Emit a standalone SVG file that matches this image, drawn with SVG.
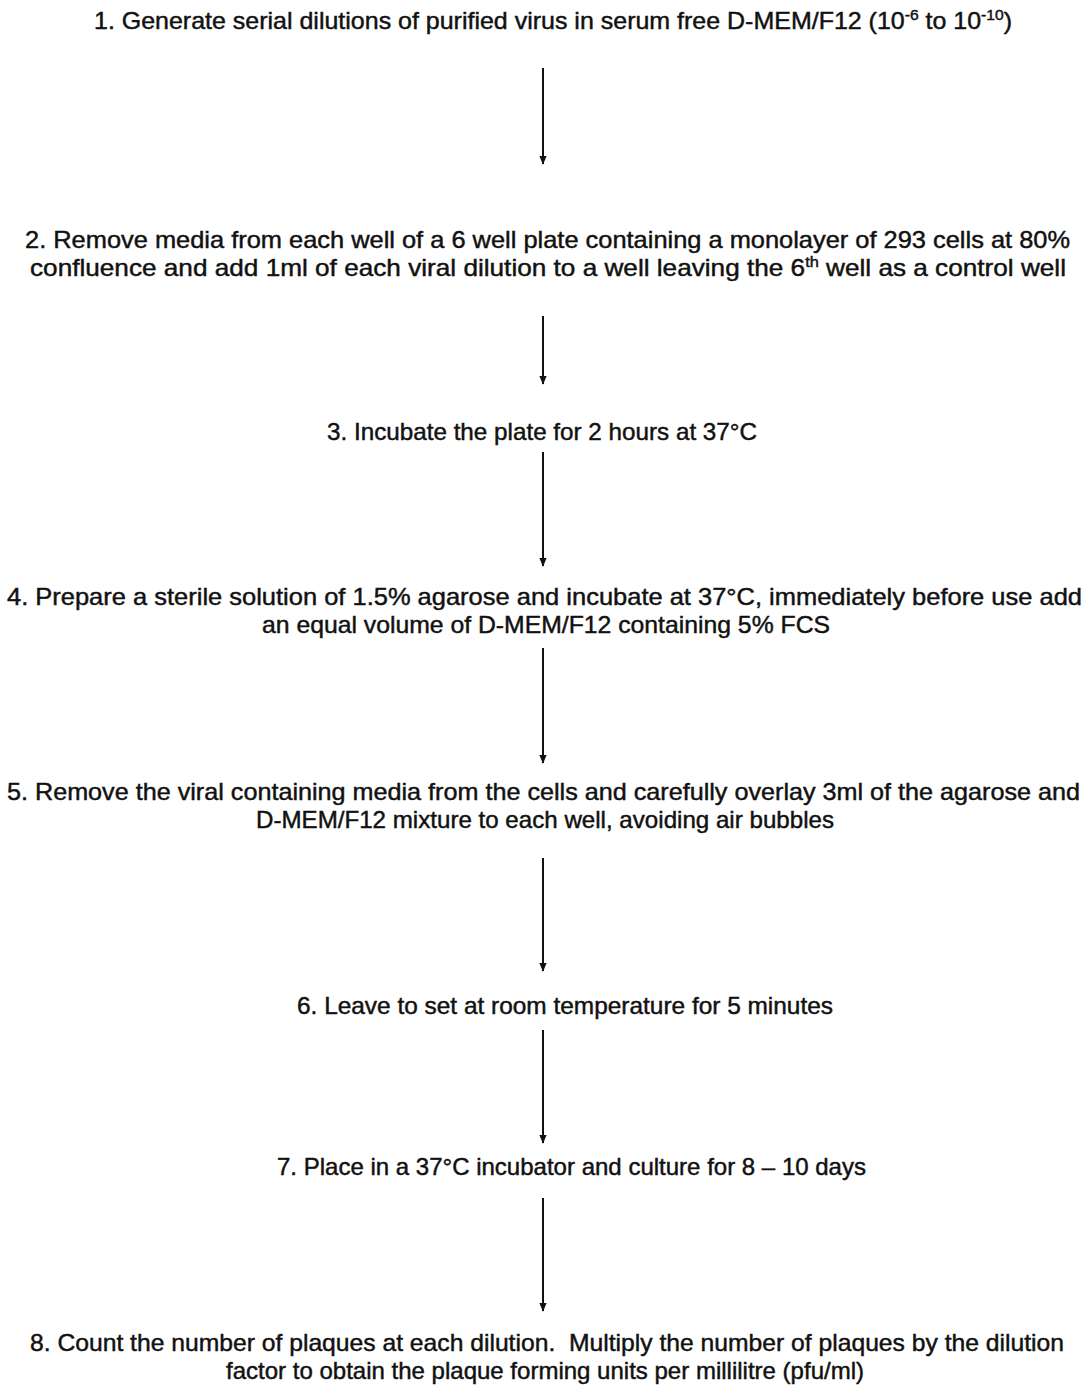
<svg xmlns="http://www.w3.org/2000/svg" width="1089" height="1393" viewBox="0 0 1089 1393">
<style>
text{font-family:"Liberation Sans",Arial,sans-serif;font-size:24px;fill:#111;stroke:#111;stroke-width:0.45}
.sup{font-size:15px}
.c{stroke:#111;stroke-width:2;fill:none}
</style>
<defs>
<marker id="a" markerWidth="9" markerHeight="11" refX="10" refY="4.5" orient="auto" markerUnits="userSpaceOnUse" viewBox="0 0 11 9">
<path d="M0,0 L11,4.5 L0,9 Z" fill="#111"/>
</marker>
</defs>
<rect width="1089" height="1393" fill="#fff"/>
<g id="connectors">
<line class="c" x1="543" y1="68" x2="543" y2="164" marker-end="url(#a)"/>
<line class="c" x1="543" y1="316" x2="543" y2="384" marker-end="url(#a)"/>
<line class="c" x1="543" y1="452" x2="543" y2="566" marker-end="url(#a)"/>
<line class="c" x1="543" y1="648" x2="543" y2="763" marker-end="url(#a)"/>
<line class="c" x1="543" y1="858" x2="543" y2="971" marker-end="url(#a)"/>
<line class="c" x1="543" y1="1030" x2="543" y2="1143" marker-end="url(#a)"/>
<line class="c" x1="543" y1="1198" x2="543" y2="1311" marker-end="url(#a)"/>
</g>
<g id="step1"><text x="94" y="29" textLength="918" lengthAdjust="spacingAndGlyphs">1. Generate serial dilutions of purified virus in serum free D-MEM/F12 (10<tspan class="sup" dy="-9">-6</tspan><tspan dy="9"> to 10</tspan><tspan class="sup" dy="-9">-10</tspan><tspan dy="9">)</tspan></text></g>
<g id="step2">
<text x="25" y="248" textLength="1045" lengthAdjust="spacingAndGlyphs">2. Remove media from each well of a 6 well plate containing a monolayer of 293 cells at 80%</text>
<text x="30" y="276" textLength="1036" lengthAdjust="spacingAndGlyphs">confluence and add 1ml of each viral dilution to a well leaving the 6<tspan class="sup" dy="-9">th</tspan><tspan dy="9"> well as a control well</tspan></text>
</g>
<g id="step3"><text x="327" y="440" textLength="430" lengthAdjust="spacingAndGlyphs">3. Incubate the plate for 2 hours at 37°C</text></g>
<g id="step4">
<text x="7" y="605" textLength="1075" lengthAdjust="spacingAndGlyphs">4. Prepare a sterile solution of 1.5% agarose and incubate at 37°C, immediately before use add</text>
<text x="262" y="633" textLength="568" lengthAdjust="spacingAndGlyphs">an equal volume of D-MEM/F12 containing 5% FCS</text>
</g>
<g id="step5">
<text x="7" y="800" textLength="1073" lengthAdjust="spacingAndGlyphs">5. Remove the viral containing media from the cells and carefully overlay 3ml of the agarose and</text>
<text x="256" y="828" textLength="578" lengthAdjust="spacingAndGlyphs">D-MEM/F12 mixture to each well, avoiding air bubbles</text>
</g>
<g id="step6"><text x="297" y="1014" textLength="536" lengthAdjust="spacingAndGlyphs">6. Leave to set at room temperature for 5 minutes</text></g>
<g id="step7"><text x="277" y="1175" textLength="589" lengthAdjust="spacingAndGlyphs">7. Place in a 37°C incubator and culture for 8 – 10 days</text></g>
<g id="step8">
<text x="30" y="1351" textLength="1034" lengthAdjust="spacingAndGlyphs">8. Count the number of plaques at each dilution.&#160; Multiply the number of plaques by the dilution</text>
<text x="226" y="1379" textLength="638" lengthAdjust="spacingAndGlyphs">factor to obtain the plaque forming units per millilitre (pfu/ml)</text>
</g>
</svg>
